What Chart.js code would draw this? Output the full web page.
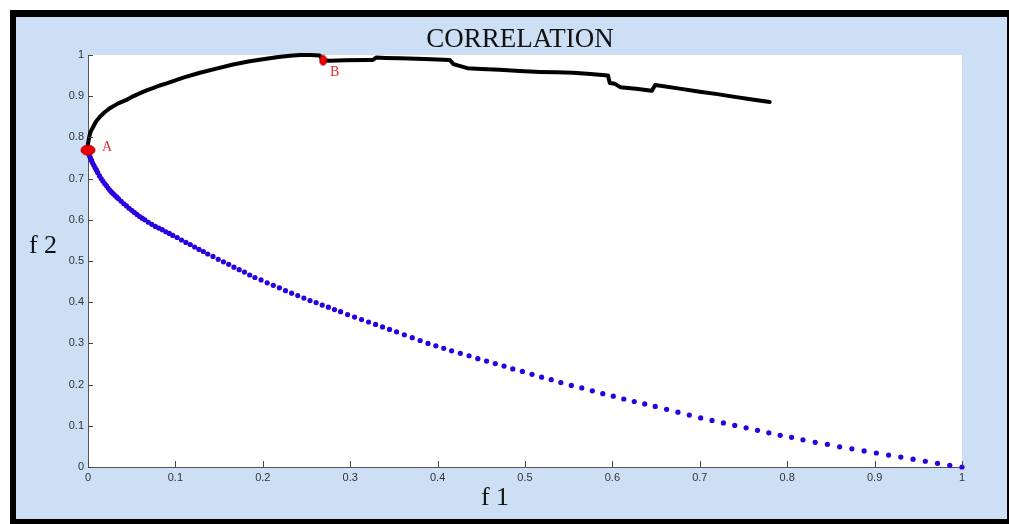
<!DOCTYPE html>
<html>
<head>
<meta charset="utf-8">
<script src="https://cdn.jsdelivr.net/npm/chart.js@4.4.1/dist/chart.umd.min.js"></script>
<style>
  html, body { margin: 0; padding: 0; background: #fff; }
  #frame {
    position: absolute; left: 10px; top: 10px;
    width: 991px; height: 502px;
    border-style: solid; border-color: #000;
    border-width: 7px 2px 5px 6px;
    background: #cddff5;
  }
  canvas { display: block; }
</style>
</head>
<body>
<div id="frame"><canvas id="chart" width="991" height="502"></canvas></div>
<script>
// curva inferior (pontos azuis)
const f1Lower = [0, 0.0005, 0.001, 0.002, 0.003, 0.004, 0.005, 0.0065, 0.008, 0.0095, 0.011, 0.013, 0.015, 0.017, 0.019, 0.021, 0.023, 0.025, 0.027, 0.029,
  0.031, 0.033, 0.035, 0.038, 0.041, 0.044, 0.047, 0.050, 0.053, 0.056, 0.059, 0.062, 0.065, 0.069, 0.073, 0.077, 0.081, 0.085, 0.089, 0.093,
  0.097, 0.102, 0.107, 0.112, 0.117, 0.122, 0.127, 0.132, 0.137, 0.143, 0.149, 0.155, 0.161, 0.167, 0.173, 0.179, 0.185, 0.191, 0.198, 0.205,
  0.212, 0.219, 0.226, 0.233, 0.240, 0.247, 0.254, 0.261, 0.268, 0.275, 0.282, 0.289, 0.297, 0.305, 0.313, 0.321, 0.329, 0.337, 0.345, 0.353,
  0.362, 0.371, 0.380, 0.389, 0.398, 0.407, 0.416, 0.426, 0.436, 0.446, 0.456, 0.466, 0.476, 0.486, 0.497, 0.508, 0.519, 0.530, 0.541, 0.553,
  0.565, 0.577, 0.589, 0.601, 0.613, 0.625, 0.637, 0.649, 0.662, 0.675, 0.688, 0.701, 0.714, 0.727, 0.740, 0.753, 0.766, 0.779, 0.792, 0.805,
  0.818, 0.832, 0.846, 0.860, 0.874, 0.888, 0.902, 0.916, 0.930, 0.944, 0.958, 0.972, 0.986, 1.000];
const f2Lower = [0.770, 0.764, 0.760, 0.754, 0.749, 0.744, 0.739, 0.733, 0.727, 0.721, 0.715, 0.707, 0.700, 0.694, 0.688, 0.683, 0.677, 0.672, 0.667, 0.663,
  0.659, 0.655, 0.651, 0.645, 0.639, 0.634, 0.628, 0.623, 0.618, 0.613, 0.608, 0.604, 0.600, 0.594, 0.589, 0.584, 0.580, 0.576, 0.571, 0.567,
  0.562, 0.557, 0.551, 0.545, 0.540, 0.534, 0.528, 0.523, 0.517, 0.511, 0.504, 0.498, 0.492, 0.485, 0.479, 0.473, 0.466, 0.460, 0.454, 0.447,
  0.441, 0.435, 0.428, 0.422, 0.416, 0.410, 0.404, 0.399, 0.393, 0.388, 0.382, 0.377, 0.370, 0.364, 0.358, 0.352, 0.346, 0.340, 0.334, 0.328,
  0.321, 0.314, 0.307, 0.300, 0.294, 0.288, 0.282, 0.276, 0.270, 0.263, 0.257, 0.251, 0.245, 0.238, 0.232, 0.225, 0.218, 0.212, 0.205, 0.198,
  0.192, 0.185, 0.178, 0.172, 0.165, 0.159, 0.153, 0.147, 0.140, 0.133, 0.126, 0.119, 0.113, 0.107, 0.101, 0.095, 0.089, 0.083, 0.077, 0.072,
  0.066, 0.060, 0.055, 0.049, 0.044, 0.039, 0.034, 0.029, 0.024, 0.019, 0.014, 0.009, 0.004, 0.000];

// curva superior (linha preta)
const f1Upper = [0, 0, 0.0015, 0.003, 0.006, 0.009, 0.0137, 0.019, 0.025, 0.034, 0.044, 0.051, 0.059, 0.067, 0.075, 0.082, 0.090, 0.109, 0.128, 0.147,
  0.166, 0.185, 0.204, 0.218, 0.231, 0.243, 0.255, 0.265, 0.269, 0.277, 0.294, 0.319, 0.326, 0.330, 0.340, 0.357, 0.385, 0.414, 0.418, 0.434,
  0.450, 0.471, 0.494, 0.517, 0.536, 0.555, 0.575, 0.595, 0.597, 0.603, 0.609, 0.627, 0.645, 0.649, 0.675, 0.700, 0.720, 0.738, 0.760, 0.780];
const f2Upper = [0.769, 0.785, 0.802, 0.814, 0.826, 0.838, 0.850, 0.861, 0.871, 0.882, 0.891, 0.899, 0.907, 0.914, 0.920, 0.926, 0.931, 0.945, 0.957, 0.967,
  0.977, 0.985, 0.991, 0.995, 0.998, 1.000, 1.000, 0.999, 0.987, 0.986, 0.987, 0.988, 0.988, 0.994, 0.993, 0.992, 0.990, 0.988, 0.978, 0.968,
  0.966, 0.964, 0.961, 0.959, 0.958, 0.957, 0.954, 0.950, 0.932, 0.930, 0.922, 0.918, 0.913, 0.927, 0.919, 0.911, 0.905, 0.899, 0.892, 0.886];

// pontos marcados
const markNames = ["A", "B"];
const markF1 = [0, 0.269];
const markF2 = [0.769, 0.987];

const tickLabels = ["0", "0.1", "0.2", "0.3", "0.4", "0.5", "0.6", "0.7", "0.8", "0.9", "1"];

const zip = (xs, ys) => xs.map((x, i) => ({ x: x, y: ys[i] }));

function elipse(w, h) {
  const c = document.createElement("canvas");
  c.width = w + 2;
  c.height = h + 2;
  const g = c.getContext("2d");
  g.beginPath();
  g.ellipse(c.width / 2, c.height / 2, w / 2, h / 2, 0, 0, Math.PI * 2);
  g.fillStyle = "#e80000";
  g.fill();
  g.strokeStyle = "#b00000";
  g.lineWidth = 1;
  g.stroke();
  return c;
}

// textos e ticks para dentro (estilo matlab)
const textos = {
  id: "textos",
  beforeDraw(chart) {
    const a = chart.chartArea, ctx = chart.ctx;
    ctx.save();
    ctx.fillStyle = "#fff";
    ctx.fillRect(a.left, a.top, a.right - a.left, a.bottom - a.top);
    ctx.restore();
  },
  afterDatasetsDraw(chart) {
    const a = chart.chartArea, ctx = chart.ctx;
    const sx = chart.scales.x, sy = chart.scales.y;
    ctx.save();
    ctx.strokeStyle = "#444";
    ctx.lineWidth = 1;
    sx.ticks.forEach(t => {
      const px = Math.round(sx.getPixelForValue(t.value)) + 0.5;
      ctx.beginPath();
      ctx.moveTo(px, a.bottom);
      ctx.lineTo(px, a.bottom - 6);
      ctx.stroke();
    });
    sy.ticks.forEach(t => {
      const py = Math.round(sy.getPixelForValue(t.value)) + 0.5;
      ctx.beginPath();
      ctx.moveTo(a.left, py);
      ctx.lineTo(a.left + 5, py);
      ctx.stroke();
    });

    ctx.fillStyle = "#e23030";
    ctx.font = "14px 'Liberation Serif'";
    ctx.textBaseline = "middle";
    ctx.textAlign = "left";
    const offs = [[14, -3], [7, 12]];
    markNames.forEach((n, i) => {
      ctx.fillText(n, sx.getPixelForValue(markF1[i]) + offs[i][0], sy.getPixelForValue(markF2[i]) + offs[i][1]);
    });

    ctx.fillStyle = "#111";
    ctx.textBaseline = "alphabetic";
    ctx.textAlign = "center";
    ctx.font = "27px 'Liberation Serif'";
    ctx.fillText("CORRELATION", (a.left + a.right) / 2 - 5, a.top - 8);
    ctx.font = "26px 'Liberation Serif'";
    ctx.fillText("f 1", (a.left + a.right) / 2 - 30, a.bottom + 38);
    ctx.fillText("f 2", 27, (a.top + a.bottom) / 2 - 8);
    ctx.restore();
  }
};

const eixo = (afterFit) => ({
  type: "linear",
  min: 0,
  max: 1,
  grid: { display: false, drawTicks: false },
  border: { display: true, color: "#555", width: 1 },
  ticks: {
    stepSize: 0.1,
    padding: 4,
    color: "#333",
    font: { family: "'Liberation Sans'", size: 11 },
    callback: (v, i) => tickLabels[i]
  },
  afterFit: afterFit
});

new Chart(document.getElementById("chart"), {
  type: "scatter",
  data: {
    datasets: [
      {
        data: zip(markF1, markF2),
        pointStyle: [elipse(14, 10), elipse(7, 10)],
        pointRadius: 6,
        order: 0,
        clip: false
      },
      {
        data: zip(f1Upper, f2Upper),
        showLine: true,
        borderColor: "#000",
        borderWidth: 4,
        borderJoinStyle: "round",
        borderCapStyle: "round",
        pointRadius: 0,
        order: 1,
        clip: false
      },
      {
        data: zip(f1Lower, f2Lower),
        backgroundColor: "#2a00e0",
        borderWidth: 0,
        pointRadius: 2.6,
        order: 2,
        clip: false
      }
    ]
  },
  options: {
    responsive: false,
    animation: false,
    devicePixelRatio: 1,
    layout: { padding: { left: 0, top: 38, right: 45, bottom: 0 } },
    plugins: { legend: { display: false }, tooltip: { enabled: false } },
    scales: {
      x: eixo(s => { s.height = 52; }),
      y: eixo(s => { s.width = 72; })
    }
  },
  plugins: [textos]
});
</script>
</body>
</html>
